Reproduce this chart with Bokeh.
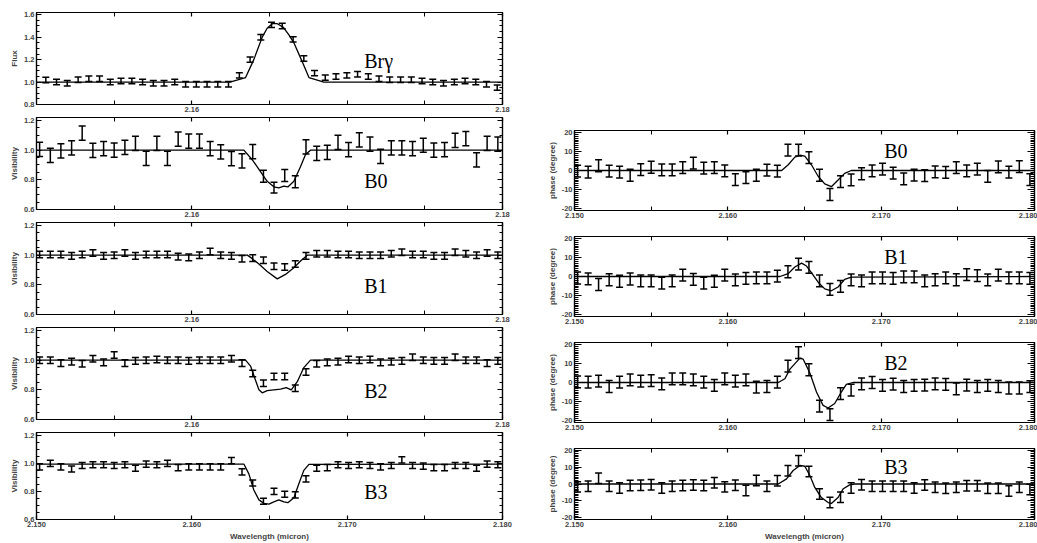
from bokeh.plotting import figure
from bokeh.models import (ColumnDataSource, Whisker, TeeHead, FixedTicker, LinearAxis,
                          Range1d, Label, PrintfTickFormatter, CustomJSTickFormatter)
from bokeh.layouts import column, row
from bokeh.embed import file_html
from bokeh.resources import INLINE

# ---------------- data ----------------
wl = [2.15020, 2.15089, 2.15157, 2.15226, 2.15294, 2.15363, 2.15432, 2.15500, 2.15569, 2.15637,
      2.15706, 2.15775, 2.15843, 2.15912, 2.15980, 2.16049, 2.16118, 2.16186, 2.16255, 2.16323,
      2.16392, 2.16461, 2.16529, 2.16598, 2.16666, 2.16735, 2.16804, 2.16872, 2.16941, 2.17009,
      2.17078, 2.17147, 2.17215, 2.17284, 2.17352, 2.17421, 2.17490, 2.17558, 2.17627, 2.17695,
      2.17764, 2.17833, 2.17901, 2.17970]

wl_flux = [2.15060, 2.15129, 2.15198, 2.15268, 2.15337, 2.15406, 2.15475, 2.15544, 2.15614, 2.15683,
           2.15752, 2.15821, 2.15890, 2.15960, 2.16029, 2.16098, 2.16167, 2.16236, 2.16306, 2.16375,
           2.16444, 2.16513, 2.16582, 2.16652, 2.16721, 2.16790, 2.16859, 2.16928, 2.16998, 2.17067,
           2.17136, 2.17205, 2.17274, 2.17344, 2.17413, 2.17482, 2.17551, 2.17620, 2.17690, 2.17759,
           2.17828, 2.17897, 2.17966]

flux = [1.018, 1.00, 0.99, 1.02, 1.03, 1.03, 1.00, 1.01, 1.01, 1.00,
        0.99, 0.99, 1.00, 0.98, 0.98, 0.98, 0.98, 0.98, 1.06, 1.20,
        1.40, 1.51, 1.50, 1.38, 1.21, 1.08, 1.04, 1.05, 1.06, 1.07,
        1.05, 1.03, 1.02, 1.02, 1.02, 1.01, 1.00, 0.99, 1.00, 1.01,
        1.00, 0.98, 0.95]
flux_err = 0.024

vis_b0 = [1.005, 0.965, 0.995, 1.015, 1.115, 0.998, 1.01, 1.0, 1.018, 1.045,
          0.945, 1.045, 0.945, 1.074, 1.06, 1.06, 1.01, 0.988, 0.943, 0.927,
          0.99, 0.824, 0.747, 0.829, 0.787, 1.022, 0.978, 0.985, 1.053, 1.004,
          1.07, 1.04, 0.958, 1.015, 1.015, 1.01, 1.033, 1.0, 1.004, 1.066,
          1.077, 0.934, 1.045, 1.04]
vis_b0_err = [0.048] * 21 + [0.040, 0.036, 0.040, 0.040] + [0.048] * 19

vis_b1 = [1.005, 1.005, 1.005, 0.995, 1.005, 1.015, 0.995, 1.0, 1.015, 0.995,
          1.005, 1.005, 1.005, 0.99, 0.985, 1.0, 1.025, 1.0, 0.995, 0.975,
          0.98, 0.965, 0.925, 0.92, 0.94, 0.995, 1.01, 1.01, 1.005, 1.005,
          1.0, 1.0, 1.0, 1.01, 1.02, 1.005, 1.005, 0.995, 0.995, 1.02,
          1.01, 1.0, 1.015, 1.0]
vis_b2 = [1.0, 1.0, 0.98, 0.99, 0.975, 1.01, 0.985, 1.035, 0.98, 0.995,
          1.0, 1.005, 1.0, 1.0, 0.995, 1.0, 1.0, 1.0, 1.01, 0.98,
          0.91, 0.845, 0.89, 0.89, 0.81, 0.92, 0.975, 0.985, 0.99, 1.005,
          1.0, 1.005, 0.985, 0.99, 0.995, 1.02, 1.0, 0.995, 0.995, 1.02,
          1.0, 1.0, 0.98, 0.995]
vis_b3 = [0.975, 1.0, 0.975, 0.96, 0.985, 0.99, 0.99, 0.985, 0.99, 0.965,
          0.995, 0.99, 1.0, 0.97, 0.975, 0.975, 0.975, 0.975, 1.02, 0.94,
          0.86, 0.73, 0.80, 0.78, 0.775, 0.89, 0.965, 0.97, 0.99, 0.985,
          0.99, 0.985, 0.975, 0.985, 1.025, 0.985, 0.98, 0.97, 0.97, 0.985,
          0.985, 0.965, 0.995, 0.99]
vis_err = 0.022

phi_b0 = [-0.3, -0.9, 2.5, -0.3, -0.9, -2.5, 0.5, 1.7, 0.3, 0.3,
          1.5, 3.9, 1.2, 1.5, -0.2, -4.8, -3.7, -2.5, 0.2, -0.3,
          10.7, 10.7, 6.8, -2.5, -12.6, -5.8, -4.9, -1.7, -0.2, 0.7,
          -1.4, -4.4, -2.4, -2.7, -0.7, -1.0, 1.5, -0.2, 0.7, -3.1,
          1.9, -0.9, 2.0, -4.8]
phi_b1 = [-0.8, -1.2, -4.2, -1.7, -2.5, -1.3, -2.3, -2.3, -3.5, -2.3,
          0.7, -1.5, -3.5, -2.5, 0.7, -1.8, -1.0, -0.7, -0.7, 0.2,
          2.5, 6.5, 4.8, -2.3, -6.8, -5.2, -1.8, -2.3, -0.7, -0.7,
          -1.0, -0.2, -0.2, -2.3, -1.7, -0.7, -1.7, 1.0, 0.5, -1.8,
          0.7, -0.7, -0.7, -1.0]
phi_b2 = [0.3, 0.2, 0.7, -2.1, 0.2, 1.4, 0.7, 1.0, -0.7, 1.9,
          1.9, 1.4, 0.2, -1.5, 1.9, 0.7, 1.4, -2.4, -2.1, 0.2,
          8.6, 15.7, 6.7, -12.4, -16.9, -5.8, -4.0, -0.7, 0.0, -1.5,
          -0.9, -2.1, -1.5, -1.4, -0.7, -1.0, -3.3, -1.4, -2.1, -1.5,
          -2.1, -2.9, -2.9, -2.2]
phi_b3 = [-1.7, -1.3, 3.4, -1.3, -2.3, -0.9, -0.8, -0.4, -2.3, -1.3,
          -0.9, -0.6, -0.9, 0.8, -1.7, -0.8, -3.8, 2.1, -1.3, 1.9,
          7.9, 13.8, 7.4, -5.9, -11.0, -7.9, -2.3, -0.4, -1.3, -1.3,
          -1.3, -1.3, -2.3, -0.6, -1.9, -2.5, -1.9, -1.1, -1.1, -2.5,
          -2.5, -4.2, -1.9, -3.2]
phi_err = 3.1

# model curves
mw_flux = [2.150, 2.16245, 2.16346, 2.16399, 2.16453, 2.16485, 2.16518, 2.16550, 2.16588,
           2.16625, 2.16657, 2.16711, 2.16754, 2.16850, 2.180]
mv_flux = [1.0, 1.0, 1.04, 1.20, 1.40, 1.48, 1.52, 1.52, 1.49, 1.42, 1.35, 1.18, 1.04, 1.0, 1.0]

mw_b0 = [2.150, 2.16335, 2.16393, 2.16442, 2.16485, 2.16528, 2.16560, 2.16593, 2.16618,
         2.16657, 2.16700, 2.16732, 2.16764, 2.180]
mv_b0 = [1.0, 1.0, 0.93, 0.855, 0.79, 0.753, 0.745, 0.757, 0.752, 0.79, 0.89, 0.97, 1.0, 1.0]

mw_b1 = [2.150, 2.16357, 2.16378, 2.16432, 2.16485, 2.16550, 2.16603, 2.16657, 2.16700, 2.16743, 2.180]
mv_b1 = [1.0, 1.0, 0.985, 0.94, 0.89, 0.84, 0.87, 0.915, 0.96, 1.0, 1.0]

mw_b2 = [2.150, 2.16346, 2.16378, 2.16410, 2.16432, 2.16453, 2.16485, 2.16528, 2.16571,
         2.16608, 2.16640, 2.16679, 2.16721, 2.16764, 2.180]
mv_b2 = [1.0, 1.0, 0.96, 0.865, 0.80, 0.78, 0.795, 0.80, 0.805, 0.815, 0.80, 0.855, 0.95, 1.0, 1.0]

mw_b3 = [2.150, 2.16335, 2.16367, 2.16399, 2.16432, 2.16464, 2.16496, 2.16528, 2.16560,
         2.16593, 2.16618, 2.16657, 2.16689, 2.16721, 2.16754, 2.180]
mv_b3 = [0.995, 0.995, 0.925, 0.81, 0.74, 0.715, 0.71, 0.725, 0.74, 0.725, 0.72, 0.755,
         0.855, 0.95, 0.993, 0.995]

pw_b0 = [2.150, 2.16351, 2.16394, 2.16437, 2.16470, 2.16502, 2.16545, 2.16589, 2.16632,
         2.16675, 2.16719, 2.16762, 2.16805, 2.180]
pv_b0 = [0, 0, 3, 7, 8, 7.5, 3, -3, -7, -8.5, -5, -1.5, 0, 0]

pw_b1 = [2.150, 2.16340, 2.16394, 2.16437, 2.16481, 2.16513, 2.16545, 2.16589, 2.16632,
         2.16675, 2.16719, 2.16762, 2.16805, 2.180]
pv_b1 = [0, 0, 1.5, 5, 7, 5.5, 2, -3, -6.5, -7.5, -5.5, -1.5, -0.3, 0]

pw_b2 = [2.150, 2.16329, 2.16372, 2.16405, 2.16470, 2.16491, 2.16535, 2.16578, 2.16621,
         2.16654, 2.16697, 2.16740, 2.16773, 2.16816, 2.180]
pv_b2 = [0, 0, 2, 7, 12.8, 12.3, 5, -5, -12, -13.4, -11, -5, -1, 0, 0]

pw_b3 = [2.150, 2.16329, 2.16383, 2.16426, 2.16470, 2.16502, 2.16535, 2.16567, 2.16610,
         2.16654, 2.16675, 2.16719, 2.16751, 2.16794, 2.16827, 2.180]
pv_b3 = [0, 0, 3, 8, 11, 10.5, 5, -2, -8, -11, -11.5, -8, -3, -0.5, 0, 0]

# ---------------- styling helpers ----------------
SANS = "Liberation Sans"
SERIF = "Liberation Serif"

def fixed(major, minor):
    return FixedTicker(ticks=major, minor_ticks=minor)

x_major_lab = [2.150, 2.160, 2.170, 2.180]
x_minor_lab = [2.155, 2.165, 2.175]
x_major_top = [2.160, 2.180]
x_minor_top = [2.150, 2.155, 2.165, 2.170, 2.175]

flux_major = [0.8, 1.0, 1.2, 1.4, 1.6]
flux_minor = [round(0.8 + 0.05 * i, 2) for i in range(17)]
vis_major = [0.6, 0.8, 1.0, 1.2]
vis_minor = [round(0.6 + 0.05 * i, 2) for i in range(13)]
phi_major = [-20, -10, 0, 10, 20]
phi_minor = [v for v in range(-21, 22)]

TICK_FS = "7.5px"


def style_ax(ax, tick_len, minor_len, font_size=TICK_FS, standoff=2):
    ax.major_tick_in = tick_len
    ax.major_tick_out = 0
    ax.minor_tick_in = minor_len
    ax.minor_tick_out = 0
    ax.axis_line_color = "black"
    ax.axis_line_width = 1.2
    ax.major_tick_line_width = 1.2
    ax.minor_tick_line_width = 1.0
    ax.major_label_text_font = SANS
    ax.major_label_text_font_style = "bold"
    ax.major_label_text_font_size = font_size
    ax.major_label_standoff = standoff
    ax.axis_label_text_font = SANS
    ax.axis_label_text_font_style = "bold"
    ax.axis_label_text_font_size = "8px"
    ax.axis_label_standoff = 2


def blank_axis(ticker, tick_len, minor_len):
    ax = LinearAxis(ticker=ticker, formatter=CustomJSTickFormatter(code="return ''"))
    style_ax(ax, tick_len, minor_len, font_size="0px", standoff=0)
    ax.axis_label = None
    return ax


def make_fig(w, h, mb, yr, xmaj, xmin, xfmt, ymaj, ymin, yfmt, ylabel, xlabel=None,
             ytick=5, yminor=3):
    p = figure(width=w, height=h, x_range=Range1d(2.150, 2.180), y_range=Range1d(*yr),
               output_backend="svg", toolbar_location=None,
               min_border_left=mb[0], min_border_right=mb[1],
               min_border_top=mb[2], min_border_bottom=mb[3])
    p.grid.visible = False
    p.outline_line_color = "black"
    p.outline_line_width = 1.2
    p.background_fill_color = "white"
    p.border_fill_color = "white"
    p.xaxis.ticker = fixed(xmaj, xmin)
    p.xaxis.formatter = PrintfTickFormatter(format=xfmt)
    p.yaxis.ticker = fixed(ymaj, ymin)
    p.yaxis.formatter = PrintfTickFormatter(format=yfmt)
    style_ax(p.xaxis[0], 4, 4)
    style_ax(p.yaxis[0], ytick, yminor)
    p.yaxis.axis_label = ylabel
    if xlabel:
        p.xaxis.axis_label = xlabel
    p.add_layout(blank_axis(fixed(xmaj, xmin), 4, 4), "above")
    p.add_layout(blank_axis(fixed(ymaj, ymin), ytick, yminor), "right")
    return p


def add_data(p, x, y, err, mx, my, cap=7):
    errs = err if isinstance(err, list) else [err] * len(y)
    src = ColumnDataSource(dict(x=x, y=y,
                                upper=[a + e for a, e in zip(y, errs)],
                                lower=[a - e for a, e in zip(y, errs)]))
    wk = Whisker(source=src, base="x", upper="upper", lower="lower", dimension="height",
                 line_color="black", line_width=1.5,
                 upper_head=TeeHead(size=cap, line_color="black", line_width=1.5),
                 lower_head=TeeHead(size=cap, line_color="black", line_width=1.5))
    p.add_layout(wk)
    p.line(mx, my, line_color="black", line_width=1.3)


def add_name(p, x, y, text, size="20px"):
    p.add_layout(Label(x=x, y=y, text=text, text_font=SERIF, text_font_size=size,
                       text_color="black", text_align="left", text_baseline="alphabetic"))


# ---------------- left column ----------------
LW = 544
left_figs = []
f1 = make_fig(LW, 115, (36, 42, 12, 11), (0.8, 1.62), x_major_top, x_minor_top, "%.2f",
              flux_major, flux_minor, "%.1f", "Flux")
add_data(f1, wl_flux, flux, flux_err, mw_flux, mv_flux)
add_name(f1, 2.1711, 1.19, "Brγ")
left_figs.append(f1)

vis_sets = [(vis_b0, vis_b0_err, mw_b0, mv_b0, "B0"),
            (vis_b1, vis_err, mw_b1, mv_b1, "B1"),
            (vis_b2, vis_err, mw_b2, mv_b2, "B2"),
            (vis_b3, vis_err, mw_b3, mv_b3, "B3")]
for i, (v, e, mx, my, name) in enumerate(vis_sets):
    if i == 3:
        f = make_fig(LW, 113, (36, 42, 2, 21), (0.6, 1.22), x_major_lab, x_minor_lab, "%.3f",
                     vis_major, vis_minor, "%.1f", "Visibility", xlabel="Wavelength (micron)")
    else:
        f = make_fig(LW, 105, (36, 42, 2, 11), (0.6, 1.22), x_major_top, x_minor_top, "%.2f",
                     vis_major, vis_minor, "%.1f", "Visibility")
    add_data(f, wl, v, e, mx, my)
    add_name(f, 2.1711, 0.795, name)
    left_figs.append(f)

# ---------------- right column ----------------
RW = 493
phi_sets = [(phi_b0, pw_b0, pv_b0, "B0"),
            (phi_b1, pw_b1, pv_b1, "B1"),
            (phi_b2, pw_b2, pv_b2, "B2"),
            (phi_b3, pw_b3, pv_b3, "B3")]
right_figs = []
for i, (v, mx, my, name) in enumerate(phi_sets):
    if i == 0:
        dims = (222, (28, 3, 130, 12))
    elif i == 3:
        dims = (109, (28, 3, 14, 19))
    else:
        dims = (106, (28, 3, 14, 12))
    f = make_fig(RW, dims[0], dims[1], (-21, 21), x_major_lab, x_minor_lab, "%.3f",
                 phi_major, phi_minor, "%d", "phase (degree)",
                 xlabel="Wavelength (micron)" if i == 3 else None, ytick=7, yminor=4)
    add_data(f, wl, v, phi_err, mx, my)
    add_name(f, 2.1702, 10.3, name)
    right_figs.append(f)

layout = row(column(*left_figs, spacing=0), column(*right_figs, spacing=0), spacing=0)

open("out.html", "w").write(file_html(layout, INLINE))
